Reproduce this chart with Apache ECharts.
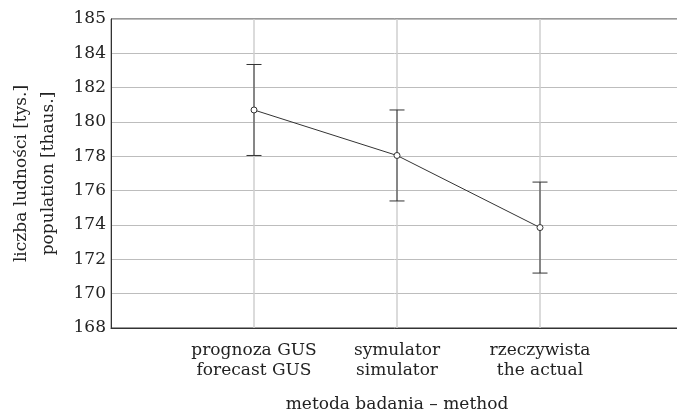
<!DOCTYPE html>
<html>
<head>
<meta charset="utf-8">
<script src="https://cdn.jsdelivr.net/npm/echarts@6/dist/echarts.min.js"></script>
<style>html,body{margin:0;padding:0;background:#fff}#c{width:677px;height:410px}</style>
</head>
<body>
<div id="c"></div>
<script>
const categories = ['', 'prognoza GUS\nforecast GUS', 'symulator\nsimulator', 'rzeczywista\nthe actual', ''];
const means = [null, 180.7, 178.05, 173.85, null];
const lower = [null, 178.05, 175.4, 171.2, null];
const upper = [null, 183.35, 180.7, 176.5, null];
const yTickValues = [168, 170, 172, 174, 176, 178, 180, 182, 184, 186];
const yTickLabels = ['168', '170', '172', '174', '176', '178', '180', '182', '184', '185'];

const FONT = 'DejaVu Serif';
const errData = [];
means.forEach((m, i) => { if (m !== null) errData.push([i, lower[i], upper[i]]); });

const chart = echarts.init(document.getElementById('c'));
chart.setOption({
  animation: false,
  grid: { left: 111, top: 19, right: -6, bottom: 82, show: true, borderColor: '#333', borderWidth: 1, outerBoundsMode: 'none', containLabel: false },
  xAxis: {
    type: 'category',
    data: categories,
    boundaryGap: false,
    name: 'metoda badania \u2013 method',
    nameLocation: 'middle',
    nameGap: 68,
    nameTextStyle: { fontFamily: FONT, fontSize: 17, color: '#222' },
    axisLine: { lineStyle: { color: '#333', width: 1 } },
    axisTick: { show: false },
    axisLabel: { interval: 0, fontFamily: FONT, fontSize: 17, color: '#222', lineHeight: 20, margin: 13 },
    splitLine: { show: true, lineStyle: { color: '#cfcfcf', width: 1.5 } }
  },
  yAxis: {
    type: 'value',
    min: 168, max: 186, interval: 2,
    name: 'liczba ludno\u015bci [tys.]\npopulation [thaus.]',
    nameLocation: 'middle',
    nameRotate: 90,
    nameGap: 49,
    nameTextStyle: { fontFamily: FONT, fontSize: 17, color: '#222', lineHeight: 27 },
    axisLine: { show: true, lineStyle: { color: '#333', width: 1 } },
    axisTick: { show: false },
    axisLabel: {
      fontFamily: FONT, fontSize: 17, color: '#222', margin: 5,
      formatter: v => { const i = yTickValues.indexOf(v); return i >= 0 ? yTickLabels[i] : ''; }
    },
    splitLine: { lineStyle: { color: '#bdbdbd', width: 1 } }
  },
  series: [
    {
      type: 'custom',
      data: errData,
      z: 2,
      renderItem: (params, api) => {
        const x = api.value(0);
        const pHi = api.coord([x, api.value(2)]);
        const pLo = api.coord([x, api.value(1)]);
        const h = 7.5;
        const st = { stroke: '#333', lineWidth: 1 };
        return {
          type: 'group',
          children: [
            { type: 'line', shape: { x1: pHi[0], y1: pHi[1], x2: pLo[0], y2: pLo[1] }, style: st },
            { type: 'line', shape: { x1: pHi[0] - h, y1: pHi[1], x2: pHi[0] + h, y2: pHi[1] }, style: st },
            { type: 'line', shape: { x1: pLo[0] - h, y1: pLo[1], x2: pLo[0] + h, y2: pLo[1] }, style: st }
          ]
        };
      }
    },
    {
      type: 'line',
      data: means,
      z: 3,
      symbol: 'circle',
      symbolSize: 6,
      lineStyle: { color: '#333', width: 1 },
      itemStyle: { color: '#fff', borderColor: '#333', borderWidth: 1 }
    }
  ]
});
</script>
</body>
</html>
